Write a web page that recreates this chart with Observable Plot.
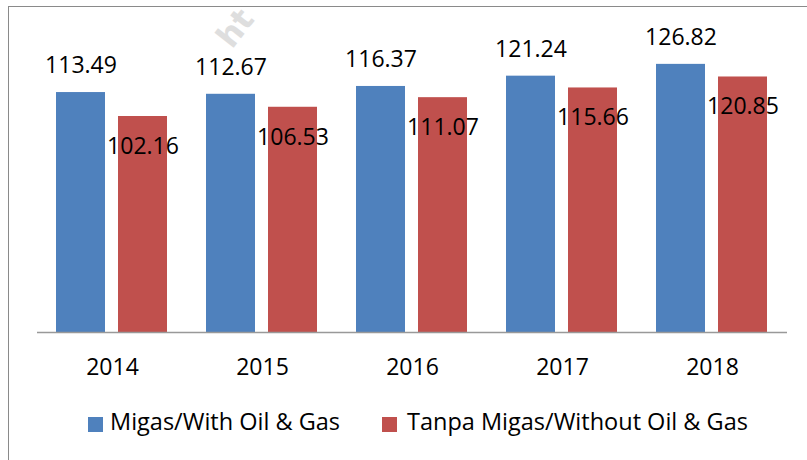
<!DOCTYPE html>
<html>
<head>
<meta charset="utf-8">
<script src="https://cdn.jsdelivr.net/npm/d3@7"></script>
<script src="https://cdn.jsdelivr.net/npm/@observablehq/plot@0.6"></script>
<style>
  html, body { margin: 0; padding: 0; background: #fff; }
  #wrap { position: relative; width: 807px; height: 460px; overflow: hidden; font-family: "Open Sans", sans-serif; }
  #frame { position: absolute; left: 8px; top: 6px; width: 900px; height: 600px; border-left: 1px solid #8a8a8a; border-top: 1px solid #8a8a8a; }
  #chart { position: absolute; left: 0; top: 0; }
  #legend { position: absolute; left: 0; top: 395px; width: 807px; height: 65px; }
  .sw { position: absolute; width: 15px; height: 15px; }
  .lt { position: absolute; font-size: 23.5px; line-height: 1; color: #000; white-space: nowrap; }
  #wm { position: absolute; left: 216px; top: 12px; font-size: 32px; font-weight: bold; color: #dedede; transform: rotate(-52deg); transform-origin: 50% 50%; font-family: "DejaVu Sans", sans-serif; line-height: 1; }
</style>
</head>
<body>
<div id="wrap">
  <div id="frame"></div>
  <div id="wm">ht</div>
  <div id="chart"></div>
  <div id="legend"></div>
</div>
<script>
const years = ["2014", "2015", "2016", "2017", "2018"];
const series = ["Migas/With Oil & Gas", "Tanpa Migas/Without Oil & Gas"];
const withOilGas = [113.49, 112.67, 116.37, 121.24, 126.82];
const withoutOilGas = [102.16, 106.53, 111.07, 115.66, 120.85];
const colors = ["#4F81BD", "#C0504D"];

const data = [];
years.forEach((yr, i) => {
  data.push({year: yr, series: series[0], value: withOilGas[i]});
  data.push({year: yr, series: series[1], value: withoutOilGas[i]});
});
const dataA = data.filter(d => d.series === series[0]);
const dataB = data.filter(d => d.series === series[1]);

const chart = Plot.plot({
  width: 807,
  height: 395,
  marginLeft: 37,
  marginRight: 20,
  marginTop: 36,
  marginBottom: 63,
  style: {fontFamily: "Open Sans, sans-serif", background: "transparent", overflow: "visible"},
  fx: {domain: years, padding: 0, label: null},
  x: {domain: series, paddingInner: 0.206, paddingOuter: 0.294, axis: null},
  y: {domain: [0, 140], axis: null},
  color: {domain: series, range: colors},
  marks: [
    Plot.barY(data, {fx: "year", x: "series", y: "value", fill: "series"}),
    Plot.ruleY([0], {stroke: "#999", strokeWidth: 1.3}),
    Plot.text(dataA, {
      fx: "year", x: "series", y: "value",
      text: d => d.value.toFixed(2),
      dy: -27, lineAnchor: "middle", fontSize: 23, fill: "#000"
    }),
    Plot.text(dataB, {
      fx: "year", x: "series", y: "value",
      text: d => d.value.toFixed(2),
      dy: 30, lineAnchor: "middle", fontSize: 23, fill: "#000"
    }),
    Plot.axisFx({anchor: "bottom", tickSize: 0, tickPadding: 26, fontSize: 23, label: null, color: "#000"})
  ]
});
document.getElementById("chart").appendChild(chart);

const legend = document.getElementById("legend");
const legendPos = [{sw: 88, tx: 110}, {sw: 382, tx: 407}];
series.forEach((s, i) => {
  const sw = document.createElement("div");
  sw.className = "sw";
  sw.style.left = legendPos[i].sw + "px";
  sw.style.top = "22px";
  sw.style.background = colors[i];
  legend.appendChild(sw);
  const t = document.createElement("div");
  t.className = "lt";
  t.style.left = legendPos[i].tx + "px";
  t.style.top = "15px";
  t.textContent = s;
  legend.appendChild(t);
});
</script>
</body>
</html>
